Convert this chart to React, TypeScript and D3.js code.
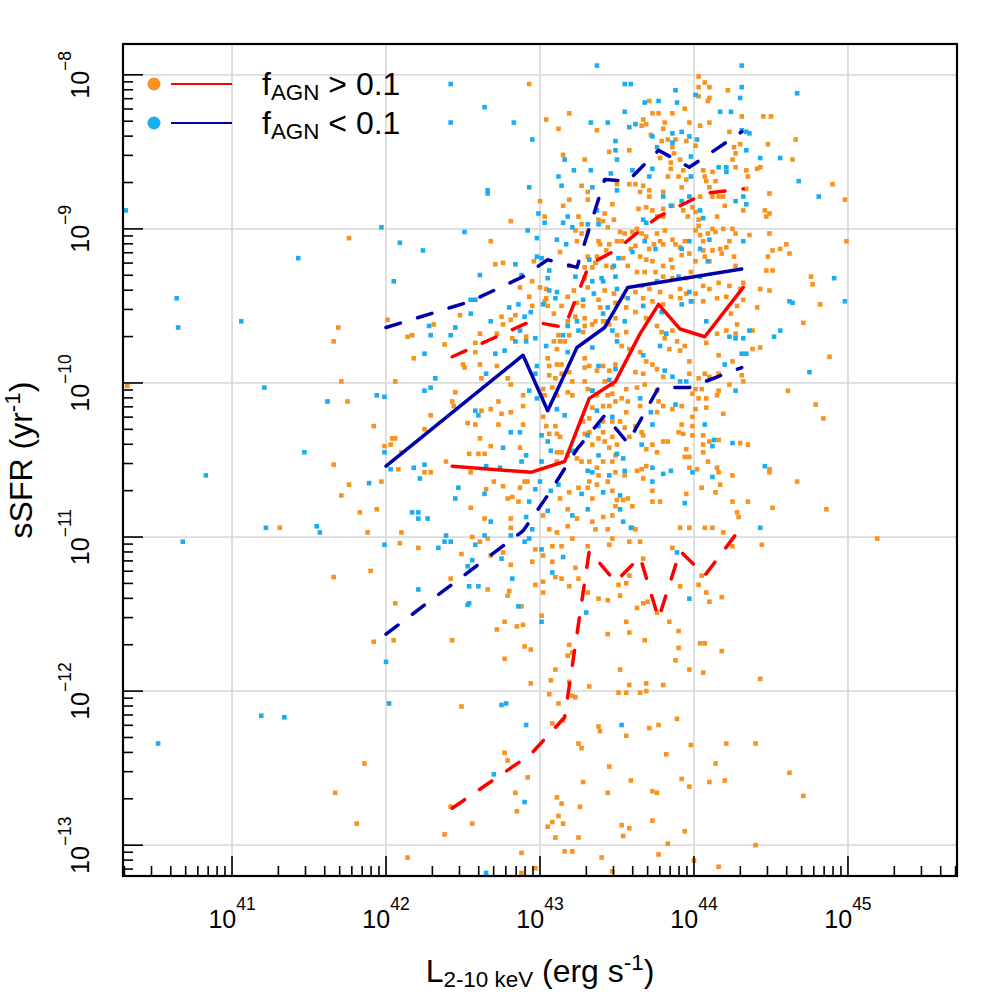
import { useEffect, useRef } from 'react';
import * as d3 from 'd3';

// [log10 L(2-10 keV), log10 sSFR] for sources with f_AGN > 0.1 (orange)
const highAgnPoints: [number, number][] = [
  [42.93,-8.06],[43.0,-8.82],[42.81,-8.95],[42.68,-9.08],[41.76,-9.06],[42.71,-9.23],[42.76,-9.22],[42.95,-9.34],[42.87,-9.38],[42.93,-9.44],
  [42.95,-9.5],[42.48,-9.56],[42.75,-9.57],[42.76,-9.62],[42.81,-9.59],[42.84,-9.56],[42.31,-9.62],[42.01,-9.59],[41.69,-9.64],[41.66,-9.73],
  [42.14,-9.7],[42.17,-9.69],[42.38,-9.75],[42.58,-9.74],[42.61,-9.68],[42.72,-9.68],[42.82,-9.71],[42.91,-9.7],[42.58,-9.8],[42.18,-9.84],
  [42.5,-9.88],[42.51,-9.9],[42.61,-9.88],[42.72,-9.89],[41.71,-9.99],[41.75,-10.12],[42.06,-9.99],[40.32,-10.02],[42.62,-9.97],[42.79,-9.97],
  [42.81,-10.01],[42.89,-10.08],[42.73,-10.12],[42.45,-10.06],[42.43,-10.12],[42.44,-10.15],[42.68,-10.17],[42.75,-10.2],[42.81,-10.19],[42.89,-10.15],
  [42.29,-10.21],[42.62,-10.18],[41.92,-10.28],[42.25,-10.3],[42.53,-10.26],[42.58,-10.27],[42.73,-10.27],[42.89,-10.27],[42.03,-10.4],[42.04,-10.36],
  [42.06,-10.36],[41.99,-10.41],[42.61,-10.36],[42.68,-10.41],[42.87,-10.42],[42.54,-10.46],[42.6,-10.46],[42.64,-10.46],[42.1,-10.45],
  [41.66,-10.53],[41.76,-10.66],[41.71,-10.73],[41.83,-10.84],[41.94,-10.82],[41.97,-10.64],[41.88,-10.97],[41.31,-10.94],[42.1,-10.97],[42.09,-11.04],
  [42.08,-10.56],[42.25,-10.58],[42.29,-10.58],[42.39,-10.51],[42.55,-10.58],[42.65,-10.69],[42.55,-10.81],[42.64,-10.88],[42.7,-10.64],[42.76,-10.67],
  [42.79,-10.75],[42.82,-10.74],[42.86,-10.77],[42.87,-10.68],[42.9,-10.64],[42.92,-10.64],[42.81,-10.88],[42.81,-10.94],[42.56,-11.0],[42.61,-11.03],
  [42.66,-11.01],[42.76,-11.1],[42.68,-11.12],[42.49,-11.11],[42.81,-11.18],[42.95,-11.16],[42.97,-11.08],[42.21,-11.07],[42.42,-11.27],[42.66,-11.34],
  [42.8,-11.35],[42.79,-11.38],[42.97,-11.31],[41.66,-11.26],[41.9,-11.22],[42.06,-11.43],[42.88,-11.45],[42.77,-11.55],[42.72,-11.6],[42.85,-11.58],
  [42.89,-11.57],[41.92,-11.68],[42.05,-11.67],[42.43,-11.67],[42.9,-11.71],[42.94,-11.73],[42.77,-11.79],[42.94,-11.95],[42.49,-12.1],[42.77,-12.4],
  [42.79,-12.45],[41.86,-12.47],[42.92,-12.56],[41.67,-12.66],[42.84,-12.66],[42.42,-12.75],[42.85,-12.78],[41.81,-12.86],[42.56,-12.86],[42.38,-12.93],
  [42.14,-13.08],[42.88,-13.05],[42.88,-13.18],[42.97,-13.15],
  [44.86,-10.82],[45.19,-11.01],[44.25,-11.06],[44.44,-11.05],[43.86,-11.07],[44.05,-11.25],[44.03,-11.31],[44.08,-11.36],[44.1,-11.42],[44.18,-11.39],
  [43.91,-11.32],[43.51,-11.31],[43.56,-11.3],[43.58,-11.25],[43.52,-11.38],[43.44,-11.41],[43.38,-11.4],[43.31,-11.36],[43.67,-11.14],[43.63,-11.46],
  [43.67,-11.43],[43.7,-11.42],[43.76,-11.49],[43.84,-11.55],[43.9,-11.61],[43.56,-11.55],[43.58,-11.62],[43.68,-11.67],[43.44,-11.63],[43.9,-11.72],
  [43.88,-11.8],[44.04,-11.69],[44.07,-11.69],[44.18,-11.74],[43.97,-11.86],[44.06,-11.88],[44.43,-11.92],[43.52,-11.86],[43.32,-11.97],[43.51,-12.01],
  [43.56,-12.01],[43.58,-11.96],[43.65,-12.01],[43.69,-11.95],[43.69,-12.0],[43.8,-11.96],[43.1,-11.86],[43.07,-11.93],[43.06,-12.02],[43.21,-12.03],
  [43.23,-12.04],[43.19,-11.94],[43.18,-11.77],[43.21,-11.75],[43.19,-11.7],[43.12,-12.08],[43.08,-12.21],[43.15,-12.19],[43.38,-12.23],[43.39,-12.26],
  [43.56,-12.29],[43.71,-12.24],[43.77,-12.22],[43.89,-12.18],[43.25,-12.34],[43.27,-12.37],[43.98,-12.35],[44.21,-12.34],[44.4,-12.34],[43.82,-12.41],
  [43.45,-12.49],[44.14,-12.47],[44.62,-12.53],[43.28,-12.59],[43.59,-12.58],[43.92,-12.57],[43.97,-12.62],[44.1,-12.59],[44.2,-12.58],[43.44,-12.66],
  [43.73,-12.65],[43.76,-12.66],[44.71,-12.68],[43.11,-12.69],[43.14,-12.73],[43.26,-12.75],[43.12,-12.81],[43.05,-12.88],[43.08,-12.85],[43.15,-12.86],
  [43.53,-12.87],[43.58,-12.89],[43.73,-12.84],[43.94,-12.91],[43.1,-12.95],[43.25,-12.95],[43.54,-12.94],[43.83,-12.99],[44.4,-13.0],[43.16,-13.04],
  [43.21,-13.04],[43.77,-13.06],[43.4,-13.08],[44.0,-13.1],[43.47,-13.17],[44.16,-13.14],
  [43.02,-11.36],[43.01,-11.51],[43.02,-11.29],[43.1,-11.26],[43.14,-11.27],[43.19,-11.32],[43.23,-11.2],[43.25,-11.27],[43.08,-11.16],
  [43.19,-8.25],[43.04,-8.29],[43.12,-8.35],[43.37,-8.36],[43.45,-8.5],[43.15,-8.52],[43.29,-8.55],[43.27,-8.72],[43.31,-8.76],[43.19,-8.81],
  [43.15,-8.85],[43.31,-8.81],[43.47,-8.84],[43.5,-8.71],[43.03,-8.92],[43.25,-8.92],[43.42,-8.9],[43.48,-8.94],[43.27,-8.97],[43.23,-9.01],
  [43.27,-9.03],[43.38,-8.94],[43.41,-8.95],[43.44,-8.99],[43.31,-9.02],[43.24,-9.08],[43.38,-9.08],[43.39,-9.1],[43.43,-9.14],[43.45,-9.1],
  [43.5,-9.08],[43.13,-9.15],[43.31,-9.18],[43.37,-9.18],[43.19,-9.24],[43.34,-9.25],[43.43,-9.24],[43.47,-9.25],[43.29,-9.25],[43.36,-9.22],
  [43.29,-9.32],[43.31,-9.38],[43.0,-9.38],[43.04,-9.39],[43.22,-9.4],[43.42,-9.4],[43.48,-9.42],[43.04,-9.45],[43.18,-9.44],[43.38,-9.46],
  [43.49,-9.48],[43.24,-9.48],[42.96,-9.21],
  [44.03,-8.01],[44.07,-8.05],[44.03,-8.08],[44.1,-8.08],[44.22,-8.1],[44.03,-8.14],[44.1,-8.15],[44.09,-8.17],[43.71,-8.17],[43.94,-8.22],
  [43.73,-8.25],[43.77,-8.25],[43.86,-8.25],[44.31,-8.27],[44.45,-8.27],[44.5,-8.27],[43.67,-8.29],[43.66,-8.33],[43.69,-8.32],[43.81,-8.31],
  [43.97,-8.31],[44.04,-8.33],[44.1,-8.31],[43.72,-8.39],[43.8,-8.35],[43.83,-8.42],[43.88,-8.42],[43.95,-8.43],[43.79,-8.43],[43.86,-8.47],
  [43.87,-8.51],[44.01,-8.46],[44.23,-8.37],[44.26,-8.47],[44.27,-8.51],[44.3,-8.45],[44.25,-8.55],[44.27,-8.6],[44.34,-8.62],[44.35,-8.66],
  [44.41,-8.61],[44.43,-8.6],[44.34,-8.74],[44.49,-8.77],[44.46,-8.88],[44.49,-8.9],[44.47,-8.92],[44.66,-8.42],[44.64,-8.55],[44.48,-8.45],
  [43.58,-8.49],[43.58,-8.71],[43.62,-8.71],[43.67,-8.72],[43.65,-8.76],[43.71,-8.75],[43.71,-8.79],[43.8,-8.76],[43.83,-8.66],[43.85,-8.61],
  [43.85,-8.57],[43.91,-8.55],[43.78,-8.54],[43.93,-8.62],[43.9,-8.66],[43.95,-8.68],[43.92,-8.73],[44.06,-8.62],[44.07,-8.66],[44.12,-8.63],
  [44.08,-8.69],[44.1,-8.73],[44.14,-8.69],[44.2,-8.85],[44.16,-8.79],[44.12,-8.79],[44.04,-8.79],[44.15,-8.92],[43.99,-8.86],[43.93,-8.88],
  [43.96,-8.92],[43.86,-8.85],[43.8,-8.87],[43.8,-8.92],[43.73,-8.88],[43.76,-8.92],[43.69,-8.86],[43.64,-8.87],[44.32,-8.88],[44.19,-8.79],
  [44.01,-8.89],[44.03,-8.94],[44.03,-8.98],[44.01,-9.01],[44.04,-9.04],[44.06,-9.08],[44.09,-9.03],[44.12,-9.0],[44.14,-9.02],[44.19,-9.0],
  [44.25,-9.0],[44.27,-9.03],[44.23,-9.08],[44.21,-9.12],[44.17,-9.13],[44.12,-9.14],[44.06,-9.14],[44.07,-9.18],[44.1,-9.21],[44.18,-9.16],
  [44.26,-9.18],[44.27,-9.24],[44.36,-9.04],[44.49,-9.03],[44.51,-9.14],[44.56,-9.13],[44.6,-9.1],[44.62,-9.16],[44.47,-9.27],[44.51,-9.27],
  [44.43,-9.39],[44.49,-9.4],[44.32,-9.35],[44.3,-9.39],[44.23,-9.37],[44.16,-9.35],[44.1,-9.39],[44.06,-9.37],[44.01,-9.42],[44.15,-9.45],
  [44.21,-9.44],[44.28,-9.5],[44.32,-9.46],[44.06,-9.47],[44.41,-9.51],[43.91,-9.39],[43.95,-9.42],[43.99,-9.47],[43.95,-9.32],[43.98,-9.28],
  [44.01,-9.21],[43.97,-9.16],[43.92,-9.17],[43.91,-9.12],[43.94,-9.08],[43.88,-9.1],[43.86,-9.07],[43.81,-9.01],[43.8,-9.1],[43.78,-9.08],
  [43.76,-9.03],[43.74,-9.1],[43.71,-9.13],[43.69,-9.05],[43.66,-9.03],[43.63,-9.0],[43.6,-9.02],[43.55,-9.03],[43.52,-9.02],[43.53,-9.08],
  [43.59,-9.13],[43.62,-9.11],[43.65,-9.18],[43.69,-9.2],[43.73,-9.21],[43.8,-9.24],[43.85,-9.2],[43.86,-9.25],[43.54,-9.19],[43.57,-9.24],
  [43.63,-9.28],[43.68,-9.28],[43.75,-9.28],[43.8,-9.31],[43.86,-9.32],[43.66,-9.37],[43.71,-9.39],[43.78,-9.41],[43.85,-9.44],[43.91,-9.45],
  [43.67,-9.45],[43.73,-9.47],[43.8,-9.49],[43.62,-9.41],[43.54,-9.44],
  [44.9,-8.71],[44.98,-8.81],[44.99,-9.08],[44.76,-9.31],[44.77,-9.36],[44.82,-9.49],[44.71,-9.61],[44.88,-9.83],[44.79,-10.14],[44.84,-10.23],
  [44.48,-9.18],
  [43.05,-9.5],[43.03,-9.47],[43.14,-9.5],[43.28,-9.5],[43.39,-9.51],[43.09,-9.55],[43.23,-9.57],[43.29,-9.58],[43.18,-9.6],[43.41,-9.6],
  [43.45,-9.62],[43.49,-9.58],[43.36,-9.6],[43.34,-9.62],[43.29,-9.63],[43.28,-9.67],[43.19,-9.69],[43.12,-9.69],[43.16,-9.73],[43.13,-9.73],
  [43.09,-9.73],[43.11,-9.78],[43.05,-9.84],[43.06,-9.89],[43.11,-9.88],[43.14,-9.88],[43.06,-9.95],[43.1,-9.97],[43.14,-9.94],[43.19,-9.93],
  [43.21,-9.99],[43.29,-9.84],[43.29,-9.9],[43.32,-9.89],[43.37,-9.92],[43.41,-9.89],[43.45,-9.92],[43.49,-9.88],[43.42,-9.99],[43.47,-10.01],
  [43.29,-9.99],[43.31,-10.04],[43.34,-10.05],[43.37,-10.08],[43.44,-10.08],[43.47,-10.07],[43.49,-10.12],[43.45,-10.15],[43.41,-10.15],[43.34,-10.16],
  [43.02,-10.04],[43.03,-10.08],[43.08,-10.03],[43.11,-10.08],[43.18,-10.06],[43.21,-10.08],[43.02,-10.22],[43.04,-10.28],[43.1,-10.28],[43.11,-10.33],
  [43.13,-10.35],[43.06,-10.33],[43.11,-10.45],[43.14,-10.45],[43.18,-10.47],[43.11,-10.51],[43.24,-10.49],[43.27,-10.51],[43.32,-10.51],[43.37,-10.55],
  [43.41,-10.51],[43.47,-10.51],[43.49,-10.47],[43.45,-10.42],[43.42,-10.38],[43.38,-10.36],[43.41,-10.32],[43.47,-10.35],[43.5,-10.4],[43.34,-10.4],
  [43.32,-10.32],[43.29,-10.33],[43.28,-10.25],[43.32,-10.23],[43.41,-10.25],[43.47,-10.25],[43.38,-10.6],[43.32,-10.64],[43.37,-10.66],[43.44,-10.64],
  [43.47,-10.7],[43.34,-10.75],[43.31,-10.68],[43.25,-10.68],[43.19,-10.71],[43.13,-10.75],[43.18,-10.82],[43.24,-10.88],[43.34,-10.9],[43.36,-10.95],
  [43.41,-10.87],[43.47,-10.86],[43.49,-10.8],[43.44,-10.95],[43.47,-11.01],[43.18,-10.93],[43.11,-10.97],[43.06,-10.95],[43.02,-10.86],[43.02,-11.12],
  [43.08,-11.06],[43.14,-11.06],[43.21,-11.01],[43.31,-11.06],[43.45,-11.05],
  [44.38,-9.66],[44.43,-9.77],[44.38,-9.78],[44.28,-9.62],[44.27,-9.68],[44.24,-9.55],[44.21,-9.66],[44.15,-9.68],[44.08,-9.74],[44.16,-9.82],
  [44.25,-9.86],[44.31,-9.95],[44.32,-9.99],[44.23,-10.01],[44.16,-9.94],[44.1,-9.96],[44.07,-9.94],[44.03,-9.97],[43.97,-9.86],[43.97,-9.94],
  [43.91,-9.79],[43.94,-9.76],[43.89,-9.73],[43.84,-9.78],[43.81,-9.71],[43.79,-9.67],[43.86,-9.66],[43.76,-9.63],[43.69,-9.58],[43.62,-9.54],
  [43.56,-9.51],[43.56,-9.67],[43.5,-9.69],[43.53,-9.76],[43.58,-9.78],[43.65,-9.8],[43.69,-9.86],[43.73,-9.88],[43.62,-9.93],[43.67,-9.94],
  [43.76,-9.91],[43.8,-9.96],[43.56,-10.04],[43.63,-10.03],[43.68,-10.01],[43.76,-10.05],[44.01,-10.04],[44.05,-10.04],[43.99,-10.07],[44.03,-10.1],
  [44.08,-10.1],[44.15,-10.08],[44.16,-10.05],[44.08,-10.16],[44.01,-10.17],[43.92,-10.15],[43.86,-10.17],[43.8,-10.15],[43.77,-10.12],[43.76,-10.19],
  [43.65,-10.15],[43.57,-10.12],[43.53,-10.1],[43.56,-10.19],[43.52,-10.25],[43.55,-10.29],[43.62,-10.28],[43.66,-10.32],[43.67,-10.34],[43.58,-10.35],
  [44.19,-10.2],[43.99,-10.22],[43.99,-10.28],[43.92,-10.27],[43.9,-10.32],[43.93,-10.33],[43.99,-10.34],[44.06,-10.34],[44.06,-10.4],[44.1,-10.38],
  [44.16,-10.37],[44.3,-10.39],[44.35,-10.4],[43.8,-10.38],[43.83,-10.38],[43.73,-10.4],[43.76,-10.45],[43.69,-10.43],[43.95,-10.43],[43.97,-10.48],
  [43.94,-10.48],[44.06,-10.45],[44.09,-10.51],[44.15,-10.55],[44.16,-10.58],[44.02,-10.56],[43.97,-10.55],[44.17,-10.66],[44.25,-10.6],[44.14,-10.71],
  [44.05,-10.68],[43.95,-10.72],[43.78,-10.77],[43.73,-10.77],[43.73,-10.7],[43.67,-10.62],[43.69,-10.54],[43.66,-10.56],[43.63,-10.57],[43.55,-10.6],
  [43.49,-10.58],[43.5,-10.76],[43.54,-10.76],[43.57,-10.75],[43.6,-10.8],[43.62,-10.95],[43.6,-10.94],[43.58,-11.03],[43.65,-11.03],[43.91,-10.94],
  [43.97,-10.94],[44.07,-10.94],[44.12,-10.94],[44.19,-10.97],[44.25,-10.77],[44.28,-10.84],[44.29,-10.87],[44.35,-10.77],[44.51,-10.81],[44.49,-10.56],
  [44.49,-10.58],[44.67,-10.64],[44.61,-10.05],
];

// [log10 L(2-10 keV), log10 sSFR] for sources with f_AGN < 0.1 (light blue)
const lowAgnPoints: [number, number][] = [
  [42.42,-8.06],[42.64,-8.21],[42.42,-8.31],[42.83,-8.31],[42.95,-8.42],[42.93,-8.73],[42.66,-8.75],[42.66,-8.77],[42.99,-8.9],[42.92,-9.01],
  [42.51,-9.02],[41.97,-8.99],[42.09,-9.09],[42.24,-9.14],[41.43,-9.19],[42.05,-9.34],[42.61,-9.3],[40.64,-9.45],[40.65,-9.64],[41.06,-9.6],
  [40.31,-8.88],[42.55,-9.46],[42.58,-9.46],[42.55,-9.55],[42.28,-9.63],[42.29,-9.69],[42.42,-9.69],[42.45,-9.64],[42.25,-9.81],[42.32,-9.97],
  [41.21,-10.03],[41.62,-10.12],[41.94,-10.08],[41.99,-10.09],[42.25,-10.05],[42.29,-10.03],[42.58,-10.18],[42.6,-10.21],[42.65,-9.94],[42.81,-10.32],
  [42.87,-10.32],[41.47,-10.45],[42.76,-10.42],[42.71,-9.81],[42.68,-9.6],[42.8,-9.51],[42.86,-9.49],[42.9,-9.57],[42.87,-9.66],[42.84,-9.73],
  [42.91,-9.73],[42.77,-9.79],
  [40.83,-10.6],[41.99,-10.45],[42.03,-10.56],[41.89,-10.65],[42.18,-10.55],[42.25,-10.53],[42.22,-10.62],[42.47,-10.68],[42.45,-10.75],[42.64,-10.72],
  [42.68,-10.9],[42.65,-10.54],[42.74,-10.55],[42.88,-10.51],[42.91,-10.47],[42.93,-10.77],[42.97,-10.69],[42.91,-10.87],[42.95,-10.95],[42.17,-10.84],
  [42.21,-10.84],[42.21,-10.88],[42.27,-10.88],[41.22,-10.94],[41.55,-10.93],[41.57,-10.97],[40.68,-11.03],[41.99,-11.05],[42.34,-11.07],[42.39,-10.99],
  [42.38,-11.03],[42.42,-11.03],[42.58,-11.05],[42.64,-10.99],[42.81,-10.99],[42.56,-11.15],[42.53,-11.19],[42.75,-11.14],[42.9,-11.03],[42.93,-11.01],
  [42.82,-11.27],[42.21,-11.34],[42.54,-11.32],[42.6,-11.32],[42.53,-11.44],[42.54,-11.43],[42.86,-11.45],[43.01,-11.55],[42.0,-11.81],[42.02,-12.08],
  [41.19,-12.16],[41.34,-12.17],[40.52,-12.34],[42.75,-12.09],[42.78,-12.08],[42.91,-12.22],[42.7,-12.54],[42.9,-12.72],[42.65,-13.18],
  [43.89,-11.1],[43.97,-11.4],[43.3,-11.49],[43.53,-12.22],[43.15,-11.13],[43.01,-11.08],[43.08,-11.23],[43.59,-10.94],
  [43.37,-7.94],[43.33,-8.31],[43.44,-8.31],[43.49,-8.43],[43.49,-8.49],[43.5,-8.55],[43.16,-8.55],[43.22,-8.62],[43.33,-8.62],[43.12,-8.66],
  [43.14,-8.72],[43.34,-8.73],[43.46,-8.64],[43.5,-8.75],[43.03,-8.96],[43.15,-8.96],[43.18,-8.92],[43.21,-8.99],[43.31,-8.97],[43.37,-8.88],
  [43.38,-8.97],[43.11,-9.07],[43.17,-9.1],[43.01,-9.19],[43.06,-9.27],[43.23,-9.31],[43.32,-9.2],[43.41,-9.34],[43.05,-9.32],[43.06,-9.4],
  [43.11,-9.41],[43.02,-9.49],[43.1,-9.45],[43.28,-9.46],[43.35,-9.42],[43.44,-9.51],[43.48,-9.24],[43.51,-9.19],[43.34,-9.34],[43.4,-9.32],
  [42.98,-9.06],[42.98,-9.18],[42.84,-9.23],[42.88,-9.3],
  [44.31,-7.94],[43.55,-8.06],[43.59,-8.06],[43.88,-8.1],[43.68,-8.18],[43.77,-8.17],[43.89,-8.18],[44.01,-8.13],[44.31,-8.08],[44.3,-8.15],
  [44.67,-8.12],[43.55,-8.24],[44.17,-8.24],[44.24,-8.24],[43.62,-8.32],[43.58,-8.34],[43.73,-8.4],[43.86,-8.38],[43.92,-8.37],[43.97,-8.4],
  [44.31,-8.36],[44.34,-8.37],[44.36,-8.38],[43.76,-8.47],[44.02,-8.42],[43.86,-8.44],[44.34,-8.49],[44.43,-8.54],[44.56,-8.54],[44.16,-8.6],
  [44.21,-8.6],[44.21,-8.63],[43.98,-8.53],[43.73,-8.61],[43.98,-8.66],[43.71,-8.66],[43.6,-8.62],[43.8,-8.79],[43.92,-8.82],[43.97,-8.79],
  [44.27,-8.82],[44.32,-8.79],[44.34,-8.84],[43.85,-8.85],[43.67,-8.94],[43.69,-8.96],[44.04,-8.88],[44.06,-8.93],[44.32,-9.08],[44.68,-8.69],
  [43.97,-9.08],[44.1,-9.07],[44.04,-9.13],[44.09,-9.21],[43.92,-9.13],[43.9,-9.31],[43.97,-9.41],[43.98,-9.47],[43.68,-9.08],[43.75,-9.13],
  [43.6,-9.15],[43.49,-9.31],[43.5,-9.39],[43.57,-9.45],[43.76,-9.34],[44.04,-9.31],[44.62,-9.47],
  [44.81,-8.79],[44.91,-9.32],[44.98,-9.47],[44.75,-9.93],
  [43.05,-10.38],[43.11,-10.17],[43.16,-10.21],[43.07,-10.44],[43.07,-10.7],[43.12,-10.66],[43.05,-10.83],[43.31,-10.57],[43.34,-10.58],[43.27,-10.72],
  [43.41,-10.71],[43.45,-10.6],[43.38,-10.47],[43.21,-10.44],[43.31,-10.34],[43.38,-10.28],[43.47,-10.22],[43.37,-10.18],[43.34,-10.05],[43.45,-9.98],
  [43.49,-9.91],[43.38,-9.89],[43.34,-9.77],[43.5,-9.73],[43.47,-9.66],[43.44,-9.6],[43.41,-9.55],[43.25,-9.66],[43.24,-9.6],[43.18,-9.63],
  [43.15,-9.69],[43.04,-9.76],[43.18,-9.8],[43.31,-10.82],[43.21,-10.86],[43.01,-10.34],[43.01,-10.51],[43.0,-10.64],[42.98,-9.89],[42.97,-9.94],
  [42.98,-10.1],[42.97,-9.71],[42.94,-9.54],[42.93,-10.05],
  [44.64,-9.48],[44.56,-9.66],[44.52,-9.7],[44.36,-9.66],[44.32,-9.71],[44.27,-9.71],[44.23,-9.7],[44.31,-9.81],[44.34,-9.81],[44.2,-9.88],
  [44.27,-10.05],[44.08,-9.6],[43.95,-9.99],[44.07,-10.27],[44.13,-10.37],[44.12,-10.41],[44.25,-10.39],[44.46,-10.54],[44.12,-10.61],[43.99,-10.58],
  [43.85,-10.57],[43.8,-10.59],[43.73,-10.55],[43.73,-10.64],[43.94,-10.78],[43.52,-10.82],[43.54,-10.9],[43.88,-10.14],[43.72,-10.19],[43.66,-10.4],
  [43.73,-10.27],[43.65,-10.1],[43.52,-10.73],[43.55,-10.57],[43.5,-10.46],[43.54,-10.49],[43.91,-9.99],[43.86,-9.96],[43.81,-9.92],[43.82,-9.68],
  [43.78,-9.76],[43.67,-9.82],[43.55,-9.6],[43.67,-9.5],[43.79,-9.54],[43.92,-9.49],[44.43,-10.94],
];

// binned median and percentile curves (log10 units)
const highBinL = [42.43, 42.94, 43.16, 43.32, 43.49, 43.65, 43.77, 43.91, 44.07, 44.32];
const highMedian = [-10.54, -10.58, -10.51, -10.1, -9.99, -9.68, -9.49, -9.65, -9.7, -9.38];
const highUpper = [-9.83, -9.6, -9.64, -9.23, -9.14, -9.01, -8.92, -8.85, -8.77, -8.74];
const highLower = [-12.76, -12.41, -12.17, -11.09, -11.29, -11.13, -11.53, -11.09, -11.25, -10.92];

const lowMedianL = [42.0, 42.89, 43.05, 43.24, 43.42, 43.57, 44.31];
const lowMedian = [-10.54, -9.82, -10.18, -9.77, -9.64, -9.38, -9.26];
const lowUpperL = [42.0, 42.55, 42.89, 43.05, 43.24, 43.42, 43.57, 43.77, 43.97, 44.31];
const lowUpper = [-9.64, -9.47, -9.31, -9.2, -9.25, -8.68, -8.69, -8.49, -8.6, -8.37];
const lowLowerL = [42.0, 42.89, 43.05, 43.24, 43.42, 43.57, 43.77, 43.97, 44.31];
const lowLower = [-11.63, -10.96, -10.73, -10.43, -10.21, -10.39, -10.03, -10.03, -9.9];

const xDecades = [41, 42, 43, 44, 45];
const yDecades = [-8, -9, -10, -11, -12, -13];
const legendRows = [
  { sign: '>', dot: '#f7931e', line: '#ff0000' },
  { sign: '<', dot: '#1cadef', line: '#0000aa' },
];

const ORANGE = '#f7931e';
const SKY = '#1cadef';
const RED = '#ff0000';
const NAVY = '#0000aa';
const FONT = '"Liberation Sans", Arial, Helvetica, sans-serif';

export default function App() {
  const ref = useRef<SVGSVGElement | null>(null);

  useEffect(() => {
    if (!ref.current) return;
    const svg = d3.select(ref.current);
    svg.selectAll('*').remove();

    const left = 123, right = 957, top = 44, bottom = 876;

    const x = d3.scaleLog().domain([10 ** 40.292, 10 ** 45.708]).range([left, right]);
    const y = d3.scaleLog().domain([10 ** -13.2, 10 ** -7.8]).range([bottom, top]);

    svg.append('defs').append('clipPath').attr('id', 'plot-clip')
      .append('rect').attr('x', left).attr('y', top)
      .attr('width', right - left).attr('height', bottom - top);

    // grid
    const grid = svg.append('g').attr('stroke', '#dcdcdc').attr('stroke-width', 1.8);
    xDecades.forEach((e) => {
      grid.append('line').attr('x1', x(10 ** e)).attr('x2', x(10 ** e)).attr('y1', top).attr('y2', bottom);
    });
    yDecades.forEach((e) => {
      grid.append('line').attr('y1', y(10 ** e)).attr('y2', y(10 ** e)).attr('x1', left).attr('x2', right);
    });

    // points
    const pts = svg.append('g').attr('clip-path', 'url(#plot-clip)');
    const s = 4.6;
    const drawPoints = (data: [number, number][], color: string) => {
      pts.append('g').attr('fill', color)
        .selectAll('rect').data(data).enter().append('rect')
        .attr('x', (d) => x(10 ** d[0]) - s / 2)
        .attr('y', (d) => y(10 ** d[1]) - s / 2)
        .attr('width', s).attr('height', s);
    };
    drawPoints(highAgnPoints, ORANGE);
    drawPoints(lowAgnPoints, SKY);

    // curves
    const line = d3.line<[number, number]>()
      .x((d) => x(10 ** d[0]))
      .y((d) => y(10 ** d[1]));
    const curves = [
      { xs: lowUpperL, ys: lowUpper, color: NAVY, dash: '15 18' },
      { xs: lowLowerL, ys: lowLower, color: NAVY, dash: '15 18' },
      { xs: highBinL, ys: highUpper, color: RED, dash: '15 18' },
      { xs: highBinL, ys: highLower, color: RED, dash: '15 18' },
      { xs: lowMedianL, ys: lowMedian, color: NAVY, dash: null },
      { xs: highBinL, ys: highMedian, color: RED, dash: null },
    ];
    const cg = svg.append('g').attr('clip-path', 'url(#plot-clip)');
    curves.forEach((c) => {
      cg.append('path')
        .attr('d', line(c.xs.map((v, i) => [v, c.ys[i]] as [number, number]))!)
        .attr('fill', 'none')
        .attr('stroke', c.color)
        .attr('stroke-width', 3.5)
        .attr('stroke-linecap', 'round')
        .attr('stroke-linejoin', 'round')
        .attr('stroke-dasharray', c.dash);
    });

    // ticks (inward)
    const ticks = svg.append('g').attr('stroke', '#000').attr('stroke-width', 1.6);
    const [xlo, xhi] = x.domain();
    const [ylo, yhi] = y.domain();
    for (let n = 40; n <= 45; n++) {
      for (let k = 1; k <= 9; k++) {
        const v = k * 10 ** n;
        if (v < xlo || v > xhi) continue;
        const len = k === 1 ? 20 : 10;
        ticks.append('line').attr('x1', x(v)).attr('x2', x(v)).attr('y1', bottom).attr('y2', bottom - len);
      }
    }
    for (let n = -14; n <= -8; n++) {
      for (let k = 1; k <= 9; k++) {
        const v = k * 10 ** n;
        if (v < ylo || v > yhi) continue;
        const len = k === 1 ? 20 : 10;
        ticks.append('line').attr('y1', y(v)).attr('y2', y(v)).attr('x1', left).attr('x2', left + len);
      }
    }

    // frame
    svg.append('rect').attr('x', left).attr('y', top)
      .attr('width', right - left).attr('height', bottom - top)
      .attr('fill', 'none').attr('stroke', '#000').attr('stroke-width', 2.2);

    // tick labels
    const labels = svg.append('g').attr('font-family', FONT).attr('fill', '#000');
    xDecades.forEach((e) => {
      const t = labels.append('text').attr('x', x(10 ** e)).attr('y', 928)
        .attr('text-anchor', 'middle').attr('font-size', 25);
      t.append('tspan').text('10');
      t.append('tspan').attr('font-size', 17.5).attr('dy', -18).text(String(e));
    });
    yDecades.forEach((e) => {
      const t = labels.append('text')
        .attr('transform', `translate(89,${y(10 ** e)}) rotate(-90)`)
        .attr('text-anchor', 'middle').attr('font-size', 25);
      t.append('tspan').text('10');
      t.append('tspan').attr('font-size', 17.5).attr('dy', -18).text(`\u2212${Math.abs(e)}`);
    });

    // axis titles
    const xt = labels.append('text').attr('x', (left + right) / 2).attr('y', 982)
      .attr('text-anchor', 'middle').attr('font-size', 32);
    xt.append('tspan').text('L');
    xt.append('tspan').attr('font-size', 22.4).attr('dy', 5).text('2-10 keV');
    xt.append('tspan').attr('dy', -5).text(' (erg s');
    xt.append('tspan').attr('font-size', 22.4).attr('dy', -12).text('-1');
    xt.append('tspan').attr('dy', 12).text(')');

    const yt = labels.append('text')
      .attr('transform', `translate(32,${(top + bottom) / 2}) rotate(-90)`)
      .attr('text-anchor', 'middle').attr('font-size', 32);
    yt.append('tspan').text('sSFR (yr');
    yt.append('tspan').attr('font-size', 22.4).attr('dy', -12).text('-1');
    yt.append('tspan').attr('dy', 12).text(')');

    // legend
    const lg = svg.append('g').attr('font-family', FONT);
    legendRows.forEach((r, i) => {
      const cy = 84 + i * 39;
      lg.append('circle').attr('cx', 154).attr('cy', cy).attr('r', 6.5).attr('fill', r.dot);
      lg.append('line').attr('x1', 171).attr('x2', 232).attr('y1', cy).attr('y2', cy)
        .attr('stroke', r.line).attr('stroke-width', 2);
      const t = lg.append('text').attr('x', 262).attr('y', cy + 11).attr('font-size', 32);
      t.append('tspan').text('f');
      t.append('tspan').attr('font-size', 22.4).attr('dy', 5).text('AGN');
      t.append('tspan').attr('dy', -5).text(` ${r.sign} 0.1`);
    });
  }, []);

  return (
    <svg ref={ref} width={1000} height={1000}
      style={{ position: 'absolute', left: 0, top: 0, background: '#fff' }} />
  );
}
